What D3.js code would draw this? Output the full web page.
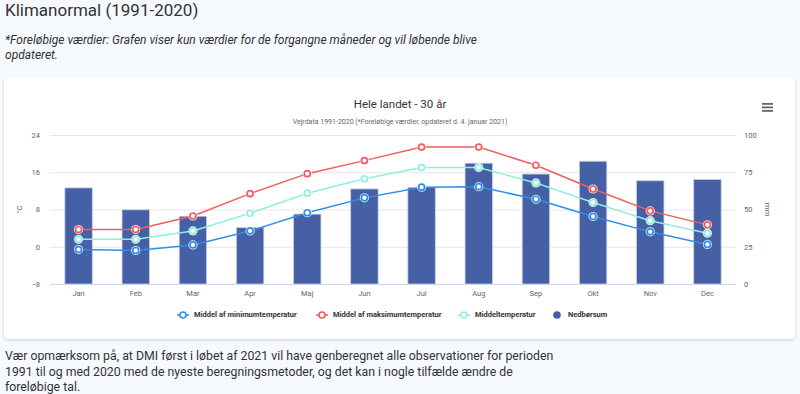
<!DOCTYPE html>
<html>
<head>
<meta charset="utf-8">
<script src="https://cdn.jsdelivr.net/npm/d3@7"></script>
<style>
  html, body { margin: 0; padding: 0; background: #f6f9fd; width: 800px; height: 394px; overflow: hidden; }
  body { font-family: Roboto, "Noto Sans", sans-serif; color: #333; position: relative; }
  h1 { position: absolute; left: 5px; top: 0px; margin: 0; font-size: 17px; line-height: 20px; font-weight: 400; color: #333; }
  .note { position: absolute; left: 5px; top: 33px; margin: 0; font-size: 12px; font-style: italic; line-height: 15px; width: 490px; color: #333; }
  .card { position: absolute; left: 4px; top: 77px; width: 791px; height: 262px; background: #fff; border-radius: 4px;
          box-shadow: 0 1px 3px rgba(0,0,0,0.18); }
  .foot { position: absolute; left: 5px; top: 349px; margin: 0; font-size: 12.3px; line-height: 15.6px; width: 560px; color: #333; }
  svg { position: absolute; left: 0; top: 0; }
  .axis text { font-family: Roboto, sans-serif; font-size: 7.5px; fill: #666; }
</style>
</head>
<body>
<h1>Klimanormal (1991-2020)</h1>
<p class="note">*Foreløbige værdier: Grafen viser kun værdier for de forgangne måneder og vil løbende blive opdateret.</p>
<div class="card"></div>
<p class="foot">Vær opmærksom på, at DMI først i løbet af 2021 vil have genberegnet alle observationer for perioden 1991 til og med 2020 med de nyeste beregningsmetoder, og det kan i nogle tilfælde ændre de foreløbige tal.</p>
<svg id="chart" width="800" height="394"></svg>
<script>
const months = ['Jan', 'Feb', 'Mar', 'Apr', 'Maj', 'Jun', 'Jul', 'Aug', 'Sep', 'Okt', 'Nov', 'Dec']
const minTemp = [-0.6, -0.8, 0.4, 3.4, 7.3, 10.5, 12.8, 12.9, 10.2, 6.5, 3.2, 0.5]
const maxTemp = [3.7, 3.7, 6.6, 11.4, 15.7, 18.5, 21.4, 21.4, 17.5, 12.4, 7.7, 4.7]
const meanTemp = [1.6, 1.6, 3.4, 7.2, 11.5, 14.6, 17.0, 17.0, 13.7, 9.5, 5.6, 2.9]
const precip = [64.5, 49.8, 45.5, 37.8, 46.9, 63.8, 64.9, 81.1, 73.8, 82.4, 69.3, 70.2]
const tempTicks = [-8, 0, 8, 16, 24]
const precipTicks = [0, 25, 50, 75, 100]

const series = [
  { name: 'Middel af minimumtemperatur', values: minTemp, color: '#2f8fe8' },
  { name: 'Middel af maksimumtemperatur', values: maxTemp, color: '#f45b5b' },
  { name: 'Middeltemperatur', values: meanTemp, color: '#90eee0' }
]
const barColor = '#4560a4'

const svg = d3.select('#chart')
const plotLeft = 50
const plotRight = 736
const plotTop = 135
const plotBottom = 284

const x = d3.scaleBand().domain(months).range([plotLeft, plotRight])
const yT = d3.scaleLinear().domain([-8, 24]).range([plotBottom, plotTop])
const yP = d3.scaleLinear().domain([0, 100]).range([plotBottom, plotTop])

// titles
svg.append('text').attr('x', 400).attr('y', 108).attr('text-anchor', 'middle')
  .style('font-size', '11.5px').style('fill', '#333').text('Hele landet - 30 år')
svg.append('text').attr('x', 400).attr('y', 124).attr('text-anchor', 'middle')
  .style('font-size', '7px').style('fill', '#666')
  .text('Vejrdata 1991-2020 (*Foreløbige værdier, opdateret d. 4. januar 2021)')

// menu icon
const menu = svg.append('g').attr('transform', 'translate(762,103)')
;[0, 3.5, 7].forEach(dy => {
  menu.append('rect').attr('x', 0).attr('y', dy).attr('width', 11).attr('height', 1.8).attr('fill', '#666')
})

// grid
svg.append('g').selectAll('line').data(tempTicks.slice(1)).enter().append('line')
  .attr('x1', plotLeft).attr('x2', plotRight)
  .attr('y1', d => yT(d) + 0.5).attr('y2', d => yT(d) + 0.5)
  .attr('stroke', '#e6e6e6')

// left axis
svg.append('g').attr('class', 'axis')
  .attr('transform', `translate(${plotLeft - 10},0)`)
  .call(d3.axisLeft(yT).tickValues(tempTicks).tickSize(0).tickPadding(0))
  .call(g => g.select('.domain').remove())
  .selectAll('text').attr('dy', '0.32em')
svg.append('text').attr('transform', `translate(22,${(plotTop + plotBottom) / 2}) rotate(-90)`)
  .attr('text-anchor', 'middle').style('font-size', '8px').style('fill', '#666').text('°C')

// right axis
svg.append('g').attr('class', 'axis')
  .attr('transform', `translate(${plotRight + 8},0)`)
  .call(d3.axisRight(yP).tickValues(precipTicks).tickSize(0).tickPadding(0))
  .call(g => g.select('.domain').remove())
  .selectAll('text').attr('dy', '0.32em')
svg.append('text').attr('transform', `translate(765,${(plotTop + plotBottom) / 2}) rotate(90)`)
  .attr('text-anchor', 'middle').style('font-size', '8px').style('fill', '#666').text('mm')

// bars
const bw = x.bandwidth() * 0.48
svg.append('g').selectAll('rect').data(precip).enter().append('rect')
  .attr('x', (d, i) => x(months[i]) + (x.bandwidth() - bw) / 2)
  .attr('y', d => yP(d))
  .attr('width', bw)
  .attr('height', d => yP(0) - yP(d))
  .attr('fill', barColor)
  .attr('stroke', '#c9d0e6').attr('stroke-width', 0.8)

// x axis
svg.append('line').attr('x1', plotLeft).attr('x2', plotRight)
  .attr('y1', plotBottom + 0.5).attr('y2', plotBottom + 0.5)
  .attr('stroke', '#ccd6eb')
svg.append('g').attr('class', 'axis')
  .attr('transform', `translate(0,${plotBottom + 5})`)
  .call(d3.axisBottom(x).tickSize(0).tickPadding(2))
  .call(g => g.select('.domain').remove())

// lines
const line = d3.line().x((d, i) => x(months[i]) + x.bandwidth() / 2).y(d => yT(d))
series.forEach(s => {
  const g = svg.append('g')
  g.append('path').datum(s.values).attr('d', line)
    .attr('fill', 'none').attr('stroke', s.color).attr('stroke-width', 1.5)
  g.selectAll('circle.halo').data(s.values).enter().append('circle')
    .attr('cx', (d, i) => x(months[i]) + x.bandwidth() / 2).attr('cy', d => yT(d))
    .attr('r', 4.6).attr('fill', '#fff').attr('opacity', 0.85)
  g.selectAll('circle.pt').data(s.values).enter().append('circle')
    .attr('cx', (d, i) => x(months[i]) + x.bandwidth() / 2).attr('cy', d => yT(d))
    .attr('r', 3).attr('fill', '#fff').attr('stroke', s.color).attr('stroke-width', 1.7)
})

// legend
const legendItems = [
  { name: series[0].name, color: series[0].color, x: 183, type: 'line' },
  { name: series[1].name, color: series[1].color, x: 322, type: 'line' },
  { name: series[2].name, color: series[2].color, x: 464, type: 'line' },
  { name: 'Nedbørsum', color: barColor, x: 557, type: 'bar' }
]
const legend = svg.append('g').attr('transform', 'translate(0,315)')
legendItems.forEach(it => {
  const g = legend.append('g').attr('transform', `translate(${it.x},0)`)
  if (it.type === 'line') {
    g.append('line').attr('x1', -6).attr('x2', 6).attr('stroke', it.color).attr('stroke-width', 1.5)
    g.append('circle').attr('r', 3).attr('fill', '#fff').attr('stroke', it.color).attr('stroke-width', 1.6)
  } else {
    g.append('circle').attr('r', 3.8).attr('fill', it.color)
  }
  g.append('text').attr('x', 11).attr('dy', '0.32em')
    .style('font-size', '7.5px').style('font-weight', 'bold').style('fill', '#333').text(it.name)
})
</script>
</body>
</html>
